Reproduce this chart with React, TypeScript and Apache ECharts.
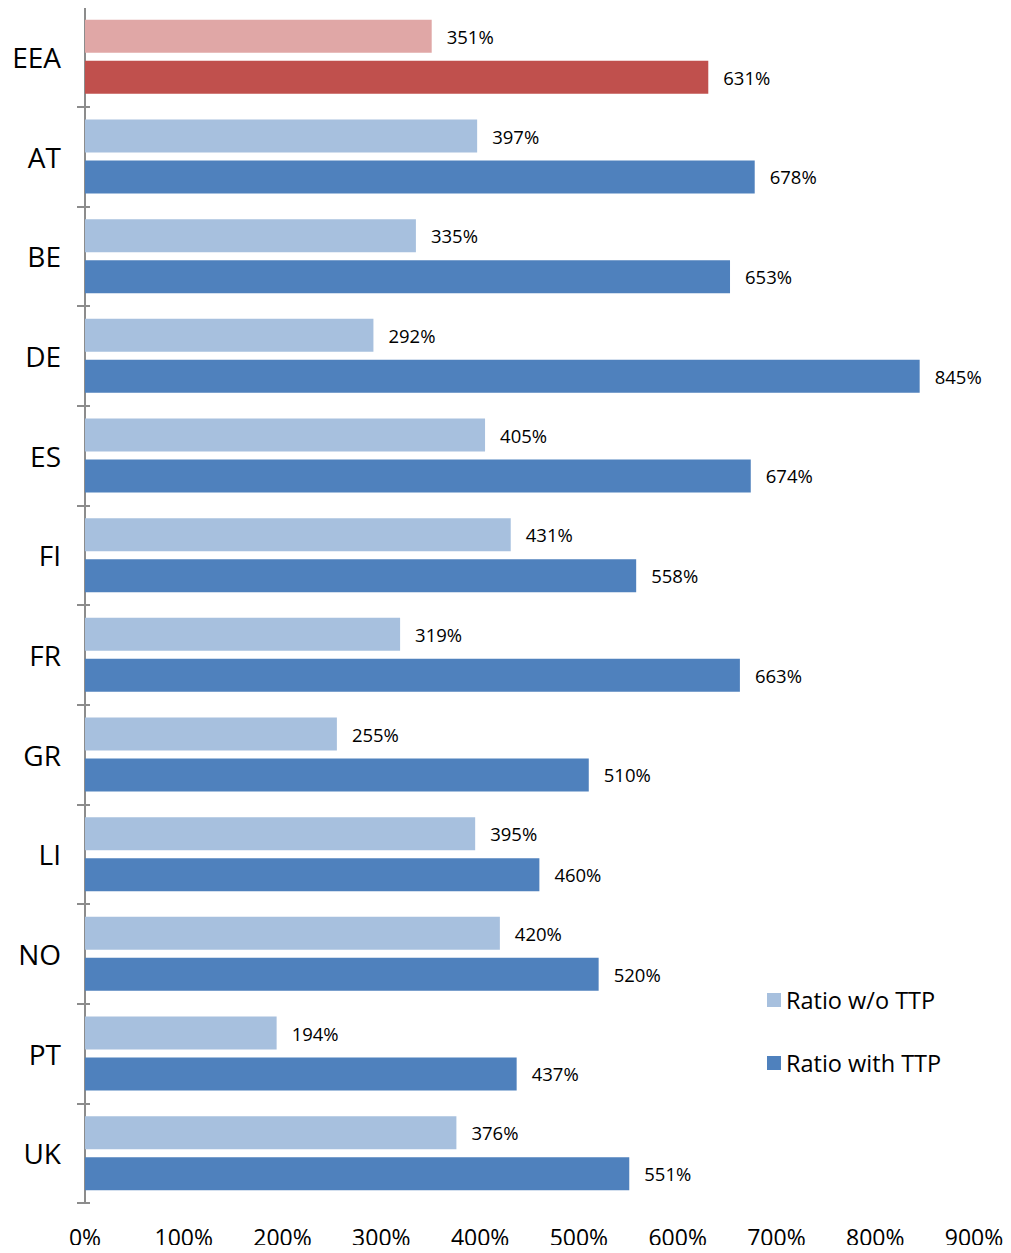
import React, { useEffect, useRef } from "react";
import * as echarts from "echarts";

const categories = ["EEA", "AT", "BE", "DE", "ES", "FI", "FR", "GR", "LI", "NO", "PT", "UK"];
const ratioWithoutTTP = [351, 397, 335, 292, 405, 431, 319, 255, 395, 420, 194, 376];
const ratioWithTTP = [631, 678, 653, 845, 674, 558, 663, 510, 460, 520, 437, 551];
const seriesNames = ["Ratio w/o TTP", "Ratio with TTP"];
const xTicks = { min: 0, max: 900, interval: 100 };

const LIGHT_BLUE = "#A7C0DE";
const DARK_BLUE = "#4F81BD";
const LIGHT_RED = "#E0A7A6";
const DARK_RED = "#C0504D";
const FONT = "'Open Sans', 'Noto Sans', sans-serif";

export default function App() {
  const ref = useRef<HTMLDivElement>(null);
  useEffect(() => {
    if (!ref.current) return;
    const chart = echarts.init(ref.current, null, { renderer: "svg" });
    const mk = (vals: number[], normal: string, eea: string) =>
      vals.map((v, i) => (categories[i] === "EEA" ? { value: v, itemStyle: { color: eea } } : v));
    const label = {
      show: true,
      position: "right" as const,
      distance: 15,
      formatter: "{c}%",
      color: "#000",
      fontSize: 18.5,
      fontFamily: FONT,
    };
    chart.setOption({
      animation: false,
      textStyle: { fontFamily: FONT },
      grid: { left: 85, right: 37, top: 7, bottom: 50, containLabel: false },
      legend: {
        orient: "vertical",
        left: 762,
        top: 983,
        itemWidth: 14,
        itemHeight: 14,
        itemGap: 39,
        icon: "rect",
        textStyle: { fontSize: 23.5, color: "#000", fontFamily: FONT },
        data: seriesNames,
      },
      xAxis: {
        type: "value",
        min: xTicks.min,
        max: xTicks.max,
        interval: xTicks.interval,
        axisLine: { show: false },
        axisTick: { show: false },
        splitLine: { show: false },
        axisLabel: { formatter: "{value}%", fontSize: 23, color: "#000", margin: 22, fontFamily: FONT },
      },
      yAxis: [
        {
          type: "category",
          data: categories,
          inverse: true,
          axisLine: { show: true, lineStyle: { color: "#8C8C8C", width: 2 } },
          axisTick: { show: true, length: 8, lineStyle: { color: "#8C8C8C", width: 2 } },
          axisLabel: { fontSize: 28, color: "#000", margin: 24, fontFamily: FONT },
        },
        {
          type: "category",
          data: categories,
          inverse: true,
          position: "left",
          axisLine: { show: false },
          axisTick: { show: true, inside: true, length: 5, lineStyle: { color: "#8C8C8C", width: 2 } },
          axisLabel: { show: false },
        },
      ],
      series: [
        {
          name: seriesNames[0],
          type: "bar",
          data: mk(ratioWithoutTTP, LIGHT_BLUE, LIGHT_RED),
          itemStyle: { color: LIGHT_BLUE },
          barWidth: 33,
          barGap: "24%",
          label,
        },
        {
          name: seriesNames[1],
          type: "bar",
          data: mk(ratioWithTTP, DARK_BLUE, DARK_RED),
          itemStyle: { color: DARK_BLUE },
          barWidth: 33,
          barGap: "24%",
          label,
        },
      ],
    });
    return () => chart.dispose();
  }, []);
  return <div ref={ref} style={{ width: 1011, height: 1253, margin: -8 }} />;
}
